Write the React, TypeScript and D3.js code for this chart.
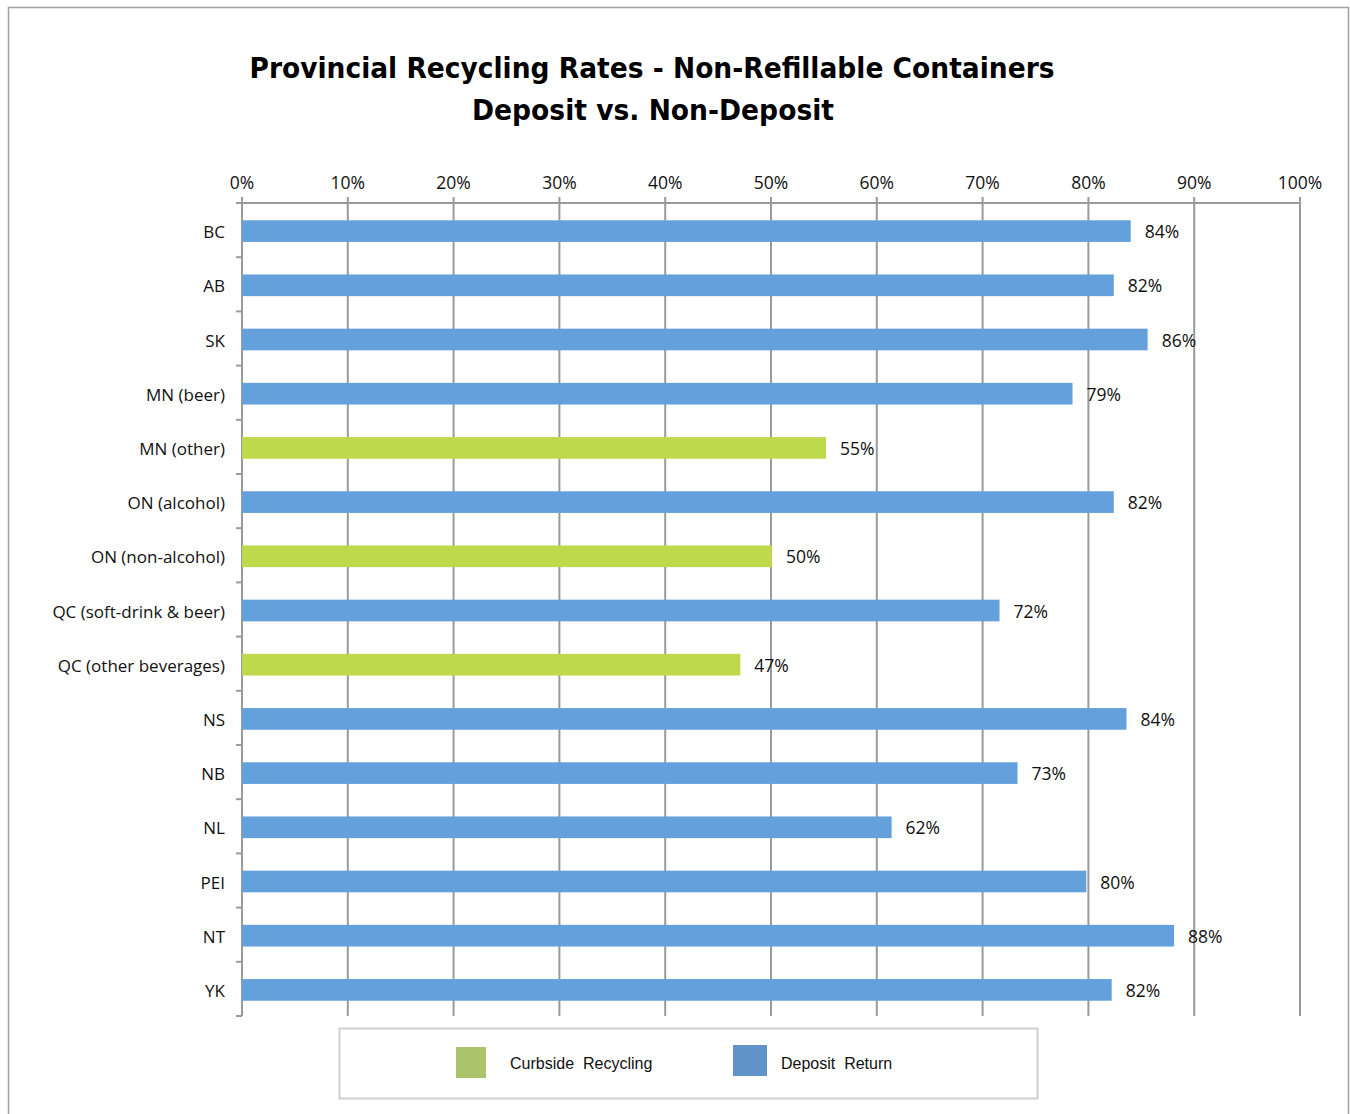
import React from "react";
import * as d3 from "d3";

const categories = ["BC", "AB", "SK", "MN (beer)", "MN (other)", "ON (alcohol)", "ON (non-alcohol)", "QC (soft-drink & beer)", "QC (other beverages)", "NS", "NB", "NL", "PEI", "NT", "YK"];
const values = [84, 82.4, 85.6, 78.5, 55.2, 82.4, 50.1, 71.6, 47.1, 83.6, 73.3, 61.4, 79.8, 88.1, 82.2];
const labels = ["84%", "82%", "86%", "79%", "55%", "82%", "50%", "72%", "47%", "84%", "73%", "62%", "80%", "88%", "82%"];
const series = ["deposit", "deposit", "deposit", "deposit", "curbside", "deposit", "curbside", "deposit", "curbside", "deposit", "deposit", "deposit", "deposit", "deposit", "deposit"];
const ticks = [0, 10, 20, 30, 40, 50, 60, 70, 80, 90, 100];
const legendItems = [
  { key: "curbside", label: "Curbside  Recycling" },
  { key: "deposit", label: "Deposit  Return" },
];

const barColor: Record<string, string> = { deposit: "#64A1DC", curbside: "#BED94B" };
const legendColor: Record<string, string> = { deposit: "#6193C8", curbside: "#A9C46B" };

export default function App() {
  const W = 1350, H = 1114;
  const left = 242, right = 1300, top = 203, bottom = 1016;
  const x = d3.scaleLinear().domain([0, 100]).range([left, right]);
  const y = d3.scaleBand<string>().domain(categories).range([top, bottom]).paddingInner(0.6).paddingOuter(0.3);
  const yb = d3.scaleBand<string>().domain(categories).range([top, bottom]);
  const font = "'Open Sans', 'Lato', sans-serif";
  const grid = "#9a9a9a";
  return (
    <svg width={W} height={H} style={{ position: "absolute", left: 0, top: 0 }}>
      <rect x={0} y={0} width={W} height={H} fill="#fff" />
      <rect x={8.5} y={7.5} width={1340} height={1120} fill="none" stroke="#a0a0a0" strokeWidth={1.5} />
      <text x={652} y={78} textAnchor="middle" fontFamily="'DejaVu Sans Condensed', 'DejaVu Sans', sans-serif" fontWeight="bold" fontSize={29} textLength={805} lengthAdjust="spacingAndGlyphs">Provincial Recycling Rates - Non-Refillable Containers</text>
      <text x={653} y={120} textAnchor="middle" fontFamily="'DejaVu Sans Condensed', 'DejaVu Sans', sans-serif" fontWeight="bold" fontSize={29} textLength={362} lengthAdjust="spacingAndGlyphs">Deposit vs. Non-Deposit</text>
      {ticks.map((t) => (
        <g key={t}>
          <line x1={x(t)} x2={x(t)} y1={top - 6} y2={bottom} stroke={grid} strokeWidth={2} />
          <text x={x(t)} y={189} textAnchor="middle" fontFamily={font} fontSize={17.5} fill="#111">{t}%</text>
        </g>
      ))}
      <line x1={left - 1} x2={right} y1={top} y2={top} stroke={grid} strokeWidth={2} />
      {categories.map((c, i) => (
        <line key={"tk" + i} x1={left - 6} x2={left} y1={(yb(c) as number)} y2={(yb(c) as number)} stroke={grid} strokeWidth={2} />
      ))}
      <line x1={left - 6} x2={left} y1={bottom} y2={bottom} stroke={grid} strokeWidth={2} />
      {categories.map((c, i) => (
        <g key={c}>
          <rect x={x(0)} y={(y(c) as number) + 1} width={x(values[i]) - x(0)} height={y.bandwidth()} fill={barColor[series[i]]} />
          <text x={225} y={(y(c) as number) + y.bandwidth() / 2 + 8} textAnchor="end" fontFamily={font} fontSize={17} fill="#111">{c}</text>
          <text x={x(values[i]) + 14} y={(y(c) as number) + y.bandwidth() / 2 + 8} fontFamily={font} fontSize={17.5} fill="#111">{labels[i]}</text>
        </g>
      ))}
      <rect x={339.5} y={1028.5} width={698} height={70} fill="#fff" stroke="#cfcfcf" strokeWidth={2} />
      {legendItems.map((l, i) => (
        <g key={l.key}>
          <rect x={i === 0 ? 456 : 733} y={i === 0 ? 1047 : 1045} width={i === 0 ? 30 : 34} height={31} fill={legendColor[l.key]} />
          <text x={i === 0 ? 510 : 781} y={1069} fontFamily="'Liberation Sans', 'Open Sans', sans-serif" fontSize={16} fill="#111" style={{ whiteSpace: "pre" }}>{l.label}</text>
        </g>
      ))}
    </svg>
  );
}
